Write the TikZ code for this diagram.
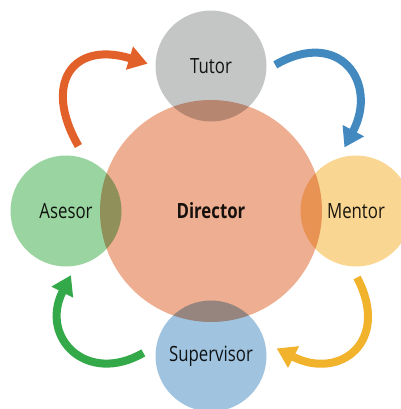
\documentclass[tikz,border=0pt]{standalone}
\usepackage{fontspec}
\setmainfont{Open Sans}[FakeStretch=0.8]
\usetikzlibrary{arrows.meta}
\definecolor{cdirector}{HTML}{EEAE91}
\definecolor{ctutor}{HTML}{C4C5C5}
\definecolor{casesor}{HTML}{9AD4A0}
\definecolor{cmentor}{HTML}{F9D692}
\definecolor{csupervisor}{HTML}{A0C4DF}
\definecolor{corange}{HTML}{E2602A}
\definecolor{cblue}{HTML}{4289C0}
\definecolor{cyellow}{HTML}{F1B22C}
\definecolor{cgreen}{HTML}{33A94A}
\tikzset{
  every picture/.style={font=\fontsize{21}{24}\selectfont},
  rol/.style={circle, fill=#1, minimum size=111pt, inner sep=0pt, text=black!90},
  ciclo/.style={-{Triangle[length=19pt, width=23pt]}, draw=#1, line width=8pt},
}

\begin{document}
\begin{tikzpicture}[x=1pt, y=1pt]
  \useasboundingbox (-211,-198) rectangle (189,211);
  \begin{scope}[blend group=multiply]
    \node[rol=ctutor] (tutor) at (0,145) {Tutor};
    \node[rol=casesor] (asesor) at (-145,0) {Asesor};
    \node[rol=cmentor] (mentor) at (145,0) {Mentor};
    \node[rol=csupervisor] (supervisor) at (0,-145) {Supervisor};
    \node[rol=cdirector, minimum size=222pt, font=\fontsize{21}{24}\selectfont\bfseries] (director) at (0,0) {Director};
  \end{scope}
  % curved arrows going round clockwise
  \draw[ciclo=corange, shorten <=15pt, shorten >=8pt] (asesor.69) to[out=120, in=163, looseness=1.92] (tutor.180);
  \draw[ciclo=cblue, shorten <=10pt, shorten >=12pt] (tutor.-4) to[out=30, in=62, looseness=1.9] (mentor.108);
  \draw[ciclo=cyellow, shorten <=12.5pt, shorten >=13pt] (mentor.265) to[out=-62, in=333, looseness=1.88] (supervisor.14);
  \draw[ciclo=cgreen, shorten <=15pt, shorten >=10.5pt] (supervisor.169) to[out=210, in=243, looseness=1.82] (asesor.280);
\end{tikzpicture}
\end{document}
